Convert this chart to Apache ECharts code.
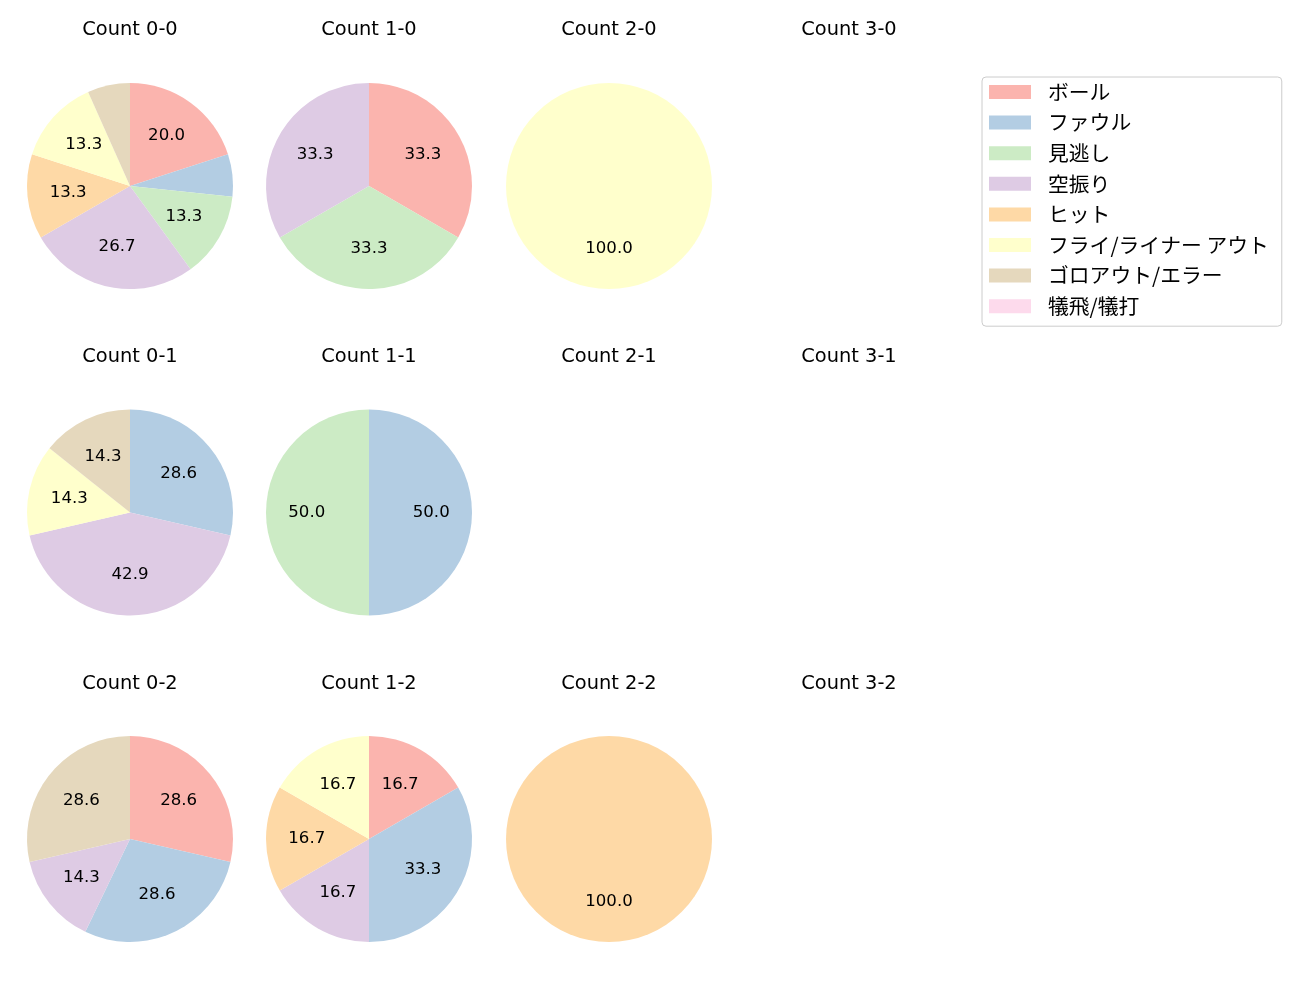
<!DOCTYPE html>
<html>
<head>
<meta charset="utf-8">
<script src="https://cdn.jsdelivr.net/npm/echarts@6/dist/echarts.min.js"></script>
<style>html,body{margin:0;padding:0;background:#fff;}#c{width:1300px;height:1000px;}</style>
</head>
<body>
<div id="c"></div>
<script>
const categories = ['ボール','ファウル','見逃し','空振り','ヒット','フライ/ライナー アウト','ゴロアウト/エラー','犠飛/犠打'];
const colors = ['#fbb4ae','#b3cde3','#ccebc5','#decbe4','#fed9a6','#ffffcc','#e5d8bd','#fddaec'];
const balls = [0, 1, 2, 3];
const strikes = [0, 1, 2];
// counts per category, keyed "balls-strikes"; null = no pitches
const count_0_0 = [3, 1, 2, 4, 2, 2, 1, 0];
const count_1_0 = [1, 0, 1, 1, 0, 0, 0, 0];
const count_2_0 = [0, 0, 0, 0, 0, 1, 0, 0];
const count_3_0 = null;
const count_0_1 = [0, 2, 0, 3, 0, 1, 1, 0];
const count_1_1 = [0, 1, 1, 0, 0, 0, 0, 0];
const count_2_1 = null;
const count_3_1 = null;
const count_0_2 = [2, 2, 0, 1, 0, 0, 2, 0];
const count_1_2 = [1, 2, 0, 1, 1, 1, 0, 0];
const count_2_2 = [0, 0, 0, 0, 1, 0, 0, 0];
const count_3_2 = null;
const grid = {
  '0-0': count_0_0, '1-0': count_1_0, '2-0': count_2_0, '3-0': count_3_0,
  '0-1': count_0_1, '1-1': count_1_1, '2-1': count_2_1, '3-1': count_3_1,
  '0-2': count_0_2, '1-2': count_1_2, '2-2': count_2_2, '3-2': count_3_2
};

const colX = [130, 369, 609, 849];
const rowY = [186, 512.5, 839];
const titleY = [20, 347, 674];
const R = 103;
const font = '"DejaVu Sans", "Noto Sans CJK JP", sans-serif';
const jfont = '"Noto Sans CJK JP", "DejaVu Sans", sans-serif';

const titles = [];
const pieSeries = [];
const labelSeries = [];
strikes.forEach((s, ri) => {
  balls.forEach((b, ci) => {
    const key = b + '-' + s;
    titles.push({
      text: 'Count ' + key,
      left: colX[ci], top: titleY[ri], textAlign: 'center', padding: 0,
      textStyle: {fontSize: 19.4, fontWeight: 'normal', color: '#000', fontFamily: font}
    });
    const vals = grid[key];
    if (!vals) return;
    const total = vals.reduce((a, c) => a + c, 0);
    const data = categories.map((name, i) => ({name, value: vals[i], itemStyle: {color: colors[i]}}));
    pieSeries.push({
      type: 'pie', center: [colX[ci], rowY[ri]], radius: [0, R],
      startAngle: 90, clockwise: true, animation: false, silent: true,
      label: {show: false}, labelLine: {show: false},
      itemStyle: {borderWidth: 0},
      data
    });
    labelSeries.push({
      type: 'pie', center: [colX[ci], rowY[ri]], radius: [R * 0.15, R],
      startAngle: 90, clockwise: true, animation: false, silent: true,
      legendHoverLink: false,
      itemStyle: {color: 'rgba(0,0,0,0)', borderWidth: 0},
      labelLine: {show: false},
      label: {
        show: true, position: 'inside', fontSize: 16.6, color: '#000', fontFamily: font,
        formatter: p => (p.value > 0 && p.value / total >= 0.1) ? (p.value / total * 100).toFixed(1) : ''
      },
      data: categories.map((name, i) => ({name: name, value: vals[i]}))
    });
  });
});

const chart = echarts.init(document.getElementById('c'), null, {renderer: 'canvas'});
chart.setOption({
  animation: false,
  title: titles,
  legend: {
    data: categories, orient: 'vertical', left: 982, top: 77,
    icon: 'rect', itemWidth: 42, itemHeight: 14, itemGap: 6.6,
    padding: [3, 13, 8, 7],
    borderColor: '#cccccc', borderWidth: 1, borderRadius: 4,
    selectedMode: false,
    textStyle: {fontSize: 20.8, lineHeight: 24, color: '#000', fontFamily: jfont, padding: [0, 0, 0, 12]}
  },
  series: pieSeries.concat(labelSeries)
});
</script>
</body>
</html>
